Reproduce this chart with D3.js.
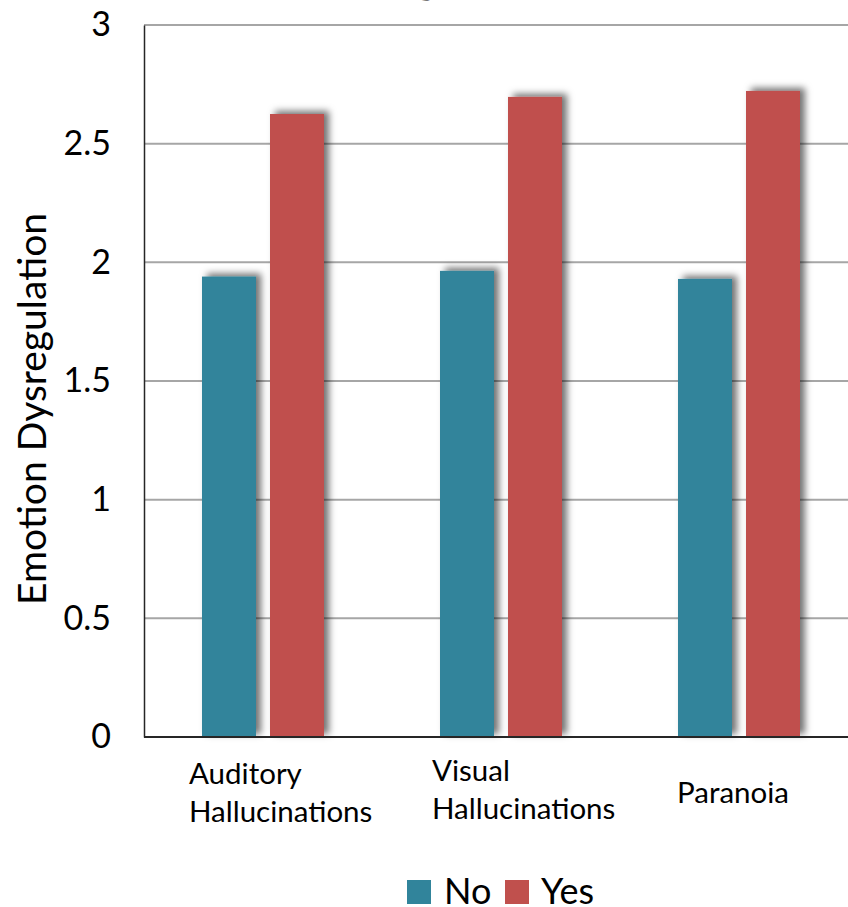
<!DOCTYPE html>
<html>
<head>
<meta charset="utf-8">
<script src="https://cdn.jsdelivr.net/npm/d3@7"></script>
<style>
  html, body { margin: 0; padding: 0; background: #fff; overflow: hidden; }
  svg { display: block; font-family: Lato, "Open Sans", sans-serif; }
</style>
</head>
<body>
<svg id="chart" width="848" height="907"></svg>
<script>
// Emotion dysregulation scores by symptom group
const categories = ["Auditory Hallucinations", "Visual Hallucinations", "Paranoia"];
const categoryLines = [["Auditory", "Hallucinations"], ["Visual", "Hallucinations"], ["Paranoia"]];
const seriesNames = ["No", "Yes"];
const noValues = [1.94, 1.964, 1.93];
const yesValues = [2.625, 2.697, 2.722];
const yTicks = [0, 0.5, 1, 1.5, 2, 2.5, 3];
const yTickLabels = ["0", "0.5", "1", "1.5", "2", "2.5", "3"];
const colors = ["#31849B", "#C0504D"];

const svg = d3.select("#chart");
const W = 848, H = 907;
const margin = { left: 144, top: 25, bottom: 170 };
const plotRight = 858;

const x = d3.scaleBand().domain(categories).range([margin.left, plotRight]).paddingInner(0).paddingOuter(0);
const x1 = d3.scaleBand().domain(seriesNames).range([0, x.bandwidth()]).paddingInner(0.206).paddingOuter(0.853);
const y = d3.scaleLinear().domain([0, 3]).range([H - margin.bottom, margin.top]);

// soft drop shadow behind bars
const defs = svg.append("defs");
const f = defs.append("filter").attr("id", "shadow")
  .attr("x", "-30%").attr("y", "-10%").attr("width", "160%").attr("height", "120%");
f.append("feDropShadow").attr("dx", 5).attr("dy", -3).attr("stdDeviation", 3.5)
  .attr("flood-color", "#000").attr("flood-opacity", 0.55);

// gridlines
svg.append("g").selectAll("line").data(yTicks.filter(t => t > 0)).join("line")
  .attr("x1", margin.left).attr("x2", W)
  .attr("y1", d => y(d)).attr("y2", d => y(d))
  .attr("stroke", "#A6A6A6").attr("stroke-width", 2);

// y axis
const yAxis = d3.axisLeft(y).tickValues(yTicks)
  .tickFormat((d, i) => yTickLabels[i]).tickSize(0).tickPadding(33);
const gy = svg.append("g").attr("transform", `translate(${margin.left},0)`).call(yAxis);
gy.select(".domain").attr("stroke", "#262626").attr("stroke-width", 1.5);
gy.selectAll("text").attr("font-size", 34).attr("fill", "#000")
  .attr("font-family", "Lato, sans-serif");

// bars
const rows = categories.map((c, i) => ({ cat: c, vals: [noValues[i], yesValues[i]] }));
const groups = svg.append("g").selectAll("g").data(rows).join("g")
  .attr("transform", d => `translate(${x(d.cat)},0)`);
groups.selectAll("rect").data(d => d.vals.map((v, j) => ({ key: seriesNames[j], v, j }))).join("rect")
  .attr("x", d => x1(d.key)).attr("width", x1.bandwidth())
  .attr("y", d => y(d.v)).attr("height", d => y(0) - y(d.v))
  .attr("fill", d => colors[d.j]).attr("filter", "url(#shadow)");

// x axis baseline
svg.append("line").attr("x1", margin.left).attr("x2", W)
  .attr("y1", y(0)).attr("y2", y(0)).attr("stroke", "#262626").attr("stroke-width", 2);

// category labels (hand-placed text boxes below the axis)
const labelNudge = [[45, 784], [50, 781], [57, 803]];
categories.forEach((c, i) => {
  const t = svg.append("text")
    .attr("x", x(c) + labelNudge[i][0]).attr("y", labelNudge[i][1])
    .attr("font-size", 29.5).attr("fill", "#000");
  categoryLines[i].forEach((ln, k) => {
    t.append("tspan").attr("x", x(c) + labelNudge[i][0]).attr("dy", k === 0 ? 0 : 38).text(ln);
  });
});

// y axis title
svg.append("text")
  .attr("transform", "translate(46,409) rotate(-90)")
  .attr("text-anchor", "middle").attr("font-size", 39).attr("fill", "#000")
  .text("Emotion Dysregulation");

// chart title (sits above the visible frame)
svg.append("text").attr("x", 356).attr("y", -7).attr("text-anchor", "middle")
  .attr("font-size", 40).attr("font-weight", "bold").attr("fill", "#000")
  .text("Emotion Dysregulation");

// legend
const legend = svg.append("g");
const legendItems = [{ name: "No", sx: 407, tx: 444 }, { name: "Yes", sx: 505, tx: 541 }];
legendItems.forEach((d, i) => {
  legend.append("rect").attr("x", d.sx).attr("y", 880).attr("width", 24).attr("height", 24)
    .attr("fill", colors[i]);
  legend.append("text").attr("x", d.tx).attr("y", 904).attr("font-size", 36).attr("fill", "#000")
    .text(d.name);
});
</script>
</body>
</html>
